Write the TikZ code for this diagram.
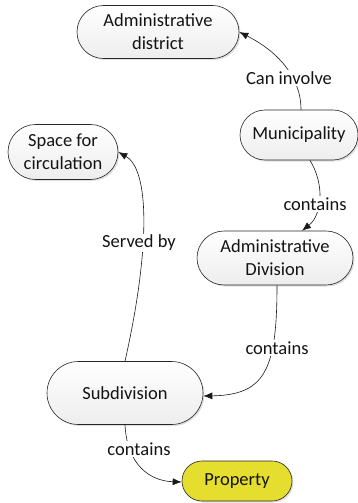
\documentclass[tikz,border=0pt]{standalone}
\usepackage{fontspec}
\setmainfont{Carlito}
\usetikzlibrary{shapes.misc,shadows,arrows.meta}
\tikzset{
  concept/.style={rounded rectangle, draw=black!85, line width=0.6pt, inner sep=0pt,
    top color=white, bottom color=gray!14, align=center,
    drop shadow={shadow xshift=1.5pt, shadow yshift=-1.5pt, opacity=0.25, fill=gray},
    font=\fontsize{18.5}{23}\selectfont, text=black!92},
  lab/.style={fill=white, inner sep=1.5pt, font=\fontsize{18.5}{23}\selectfont, text=black!92},
  conn/.style={line width=0.6pt, black!90, -{Latex[length=9pt,width=7pt]}}
}
\begin{document}
\begin{tikzpicture}[x=1pt,y=-1pt]
\useasboundingbox (0,0) rectangle (358,503);
\node[concept, minimum width=162pt, minimum height=53pt] (dist) at (158,32) {Administrative\\district};
\node[concept, minimum width=118pt, minimum height=50pt] (mun) at (299,135) {Municipality};
\node[concept, minimum width=110pt, minimum height=55pt] (space) at (63,152) {Space for\\circulation};
\node[concept, minimum width=156pt, minimum height=54pt] (adiv) at (275,258) {Administrative\\Division};
\node[concept, minimum width=156pt, minimum height=63pt] (sub) at (125,393) {Subdivision};
\node[concept, top color={rgb,255:red,229;green,222;blue,46}, bottom color={rgb,255:red,229;green,222;blue,46}, minimum width=110pt, minimum height=40pt] (prop) at (237,481) {Property};

\draw[conn] ([xshift=2pt]mun.north) .. controls (301,75) and (275,50) .. (dist.east);
\draw[conn] ([xshift=11pt]mun.south) .. controls (325,185) and (322,215) .. ([xshift=27pt]adiv.north);
\draw[conn] ([xshift=2pt]adiv.south) .. controls (277,370) and (265,395) .. ([yshift=-3pt]sub.east);
\draw[conn] (sub.north) .. controls (150,250) and (150,170) .. (space.east);
\draw[conn] (sub.south) .. controls (127,465) and (150,481) .. ([yshift=-1pt]prop.west);

\node[lab] (l1) at (289,78) {Can involve};
\node[lab] (l2) at (315,204) {contains};
\node[lab] (l3) at (277,348) {contains};
\node[lab] (l4) at (139,243) {Served by};
\node[lab] (l5) at (139,449) {contains};
\end{tikzpicture}
\end{document}
